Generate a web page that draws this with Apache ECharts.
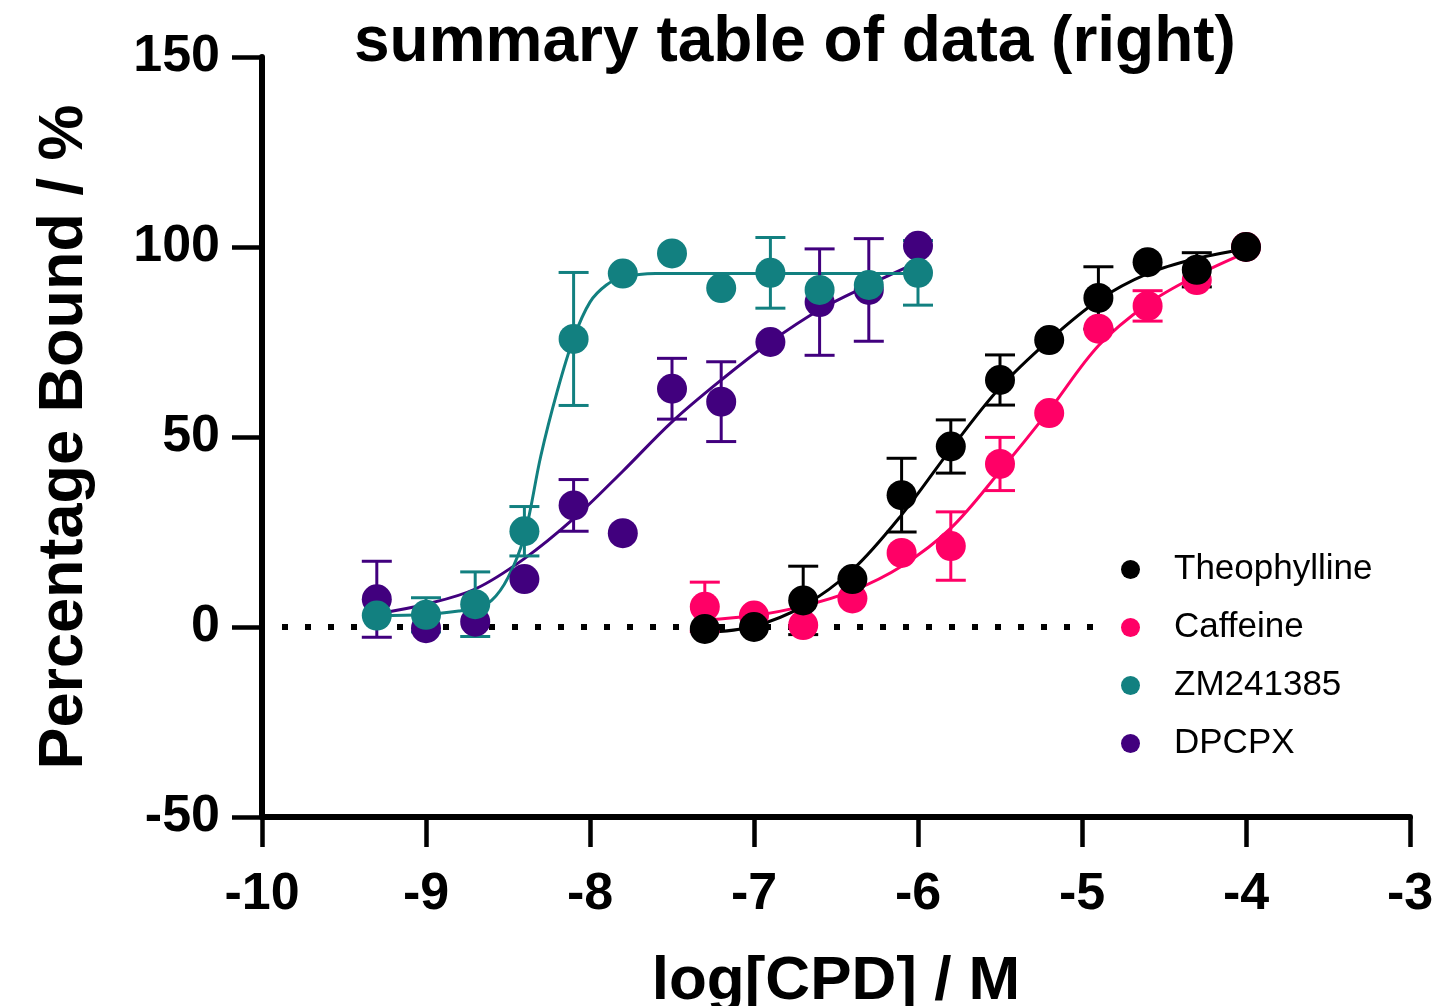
<!DOCTYPE html>
<html>
<head>
<meta charset="utf-8">
<title>summary table of data (right)</title>
<script src="https://cdn.jsdelivr.net/npm/echarts@6/dist/echarts.min.js"></script>
<style>
    html, body { margin: 0; padding: 0; background: #ffffff; }
    #chart { width: 1433px; height: 1006px; }
</style>
</head>
<body>
<div id="chart"></div>
<script>
    // measured points (log concentration / % bound / error)
    const theoX = [-7.3, -7.0, -6.7, -6.4, -6.1, -5.8, -5.5, -5.2, -4.9, -4.6, -4.3, -4.0]
    const theoY = [-0.5, 0, 7, 12.6, 34.7, 47.5, 65, 75.5, 86.6, 96, 94, 100]
    const theoErr = [0, 0, 9, 0, 9.7, 7, 6.6, 0, 8.2, 0, 4.5, 0]

    const caffX = [-7.3, -7.0, -6.7, -6.4, -6.1, -5.8, -5.5, -5.2, -4.9, -4.6, -4.3, -4.0]
    const caffY = [5.3, 3, 0.5, 7.5, 19.5, 21.3, 42.9, 56.3, 78.5, 84.5, 91.3, 100]
    const caffErr = [6.5, 0, 0, 0, 0, 9, 7, 0, 0, 4, 0, 0]

    const zmX = [-9.3, -9.0, -8.7, -8.4, -8.1, -7.8, -7.5, -7.2, -6.9, -6.6, -6.3, -6.0]
    const zmY = [3, 3.2, 6, 25.2, 75.8, 93, 98.3, 89.2, 93.2, 88.7, 90, 93.2]
    const zmErr = [0, 4.5, 8.5, 6.5, 17.5, 0, 0, 0, 9.3, 0, 0, 8.5]

    const dpcpxX = [-9.3, -9.0, -8.7, -8.4, -8.1, -7.8, -7.5, -7.2, -6.9, -6.6, -6.3, -6.0]
    const dpcpxY = [7.3, -0.3, 1.4, 12.6, 32, 24.7, 62.7, 59.3, 75, 85.5, 88.7, 100.3]
    const dpcpxErr = [10, 0, 0, 0, 6.8, 0, 8, 10.5, 0, 14, 13.5, 0]

    // fitted curves
    const theoFitX = [-7.3, -7.0, -6.7, -6.4, -6.1, -5.8, -5.5, -5.2, -4.9, -4.6, -4.3, -4.0]
    const theoFitY = [-1.5, 0.2, 5.5, 15, 29.5, 46.8, 63, 75.5, 86, 93, 97, 99.5]

    const caffFitX = [-7.3, -7.0, -6.7, -6.4, -6.1, -5.8, -5.5, -5.2, -4.9, -4.6, -4.3, -4.0]
    const caffFitY = [1.8, 3, 5.5, 9.5, 16, 26, 41, 57, 74, 85, 92.5, 98.5]

    const zmFitX = [-9.3, -9.0, -8.8, -8.7, -8.6, -8.5, -8.4, -8.3, -8.2, -8.1, -8.0, -7.9, -7.8, -7.6, -7.2, -6.6, -6.0]
    const zmFitY = [3, 3.3, 4.2, 5, 7, 13, 24, 45, 62, 76, 85.5, 90, 92, 93, 93, 93, 93]

    const dpcpxFitX = [-9.3, -9.0, -8.7, -8.4, -8.1, -7.8, -7.5, -7.2, -6.9, -6.6, -6.3, -6.0]
    const dpcpxFitY = [3.5, 6, 10, 18, 28.5, 41, 54, 65, 75, 83.5, 90, 96]

    const baselineX = [-10, -4.93]
    const baselineY = [0, 0]

    const xTicks = [-10, -9, -8, -7, -6, -5, -4, -3]
    const yTicks = [-50, 0, 50, 100, 150]

    const legendNames = ['Theophylline', 'Caffeine', 'ZM241385', 'DPCPX']
    const colors = {
        Theophylline: '#000000',
        Caffeine: '#ff0066',
        ZM241385: '#128080',
        DPCPX: '#41007e'
    }

    const fontFamily = '"Liberation Sans", Arial, sans-serif'

    function zip(xs, ys) {
        return xs.map((x, i) => [x, ys[i]])
    }

    function curveSeries(name, xs, ys) {
        return {
            name: name,
            type: 'line',
            data: zip(xs, ys),
            smooth: 0.35,
            symbol: 'none',
            silent: true,
            itemStyle: { color: colors[name] },
            lineStyle: { color: colors[name], width: 3 },
            z: 2
        }
    }

    function errorSeries(name, xs, ys, errs) {
        const data = xs.map((x, i) => [x, ys[i], errs[i]]).filter(d => d[2] > 0)
        return {
            name: name,
            type: 'custom',
            silent: true,
            encode: { x: 0, y: 1 },
            data: data,
            itemStyle: { color: colors[name] },
            z: 3,
            renderItem: function (params, api) {
                const x = api.value(0)
                const y = api.value(1)
                const e = api.value(2)
                const top = api.coord([x, y + e])
                const bot = api.coord([x, y - e])
                const hw = 15
                const style = { stroke: colors[name], lineWidth: 3 }
                return {
                    type: 'group',
                    children: [
                        { type: 'line', shape: { x1: top[0], y1: top[1], x2: bot[0], y2: bot[1] }, style: style },
                        { type: 'line', shape: { x1: top[0] - hw, y1: top[1], x2: top[0] + hw, y2: top[1] }, style: style },
                        { type: 'line', shape: { x1: bot[0] - hw, y1: bot[1], x2: bot[0] + hw, y2: bot[1] }, style: style }
                    ]
                }
            }
        }
    }

    function pointSeries(name, xs, ys) {
        return {
            name: name,
            type: 'scatter',
            data: zip(xs, ys),
            symbol: 'circle',
            symbolSize: 30,
            itemStyle: { color: colors[name], opacity: 1 },
            z: 4
        }
    }

    const chart = echarts.init(document.getElementById('chart'))

    chart.setOption({
        animation: false,
        backgroundColor: '#ffffff',
        title: {
            text: 'summary table of data (right)',
            left: 349,
            top: 6,
            textStyle: { fontFamily: fontFamily, fontSize: 64, fontWeight: 'bold', color: '#000' }
        },
        legend: {
            data: legendNames,
            orient: 'vertical',
            left: 1116,
            top: 547,
            icon: 'circle',
            itemWidth: 19,
            itemHeight: 19,
            itemGap: 23,
            selectedMode: false,
            textStyle: {
                fontFamily: fontFamily,
                fontSize: 35,
                lineHeight: 34,
                color: '#000',
                padding: [0, 0, 0, 29]
            }
        },
        grid: {
            left: 262,
            right: 23,
            top: 57,
            bottom: 189,
            outerBoundsMode: 'none'
        },
        xAxis: {
            type: 'value',
            min: xTicks[0],
            max: xTicks[xTicks.length - 1],
            interval: 1,
            name: 'log[CPD] / M',
            nameLocation: 'middle',
            nameGap: 134,
            nameTextStyle: { fontFamily: fontFamily, fontSize: 62, fontWeight: 'bold', color: '#000' },
            axisLine: { onZero: false, lineStyle: { color: '#000', width: 6 } },
            axisTick: { length: 30, lineStyle: { color: '#000', width: 4.5 } },
            axisLabel: { margin: 52, fontFamily: fontFamily, fontSize: 52, fontWeight: 'bold', color: '#000' },
            splitLine: { show: false }
        },
        yAxis: {
            type: 'value',
            min: yTicks[0],
            max: yTicks[yTicks.length - 1],
            interval: 50,
            name: 'Percentage Bound / %',
            nameLocation: 'middle',
            nameGap: 166,
            nameTextStyle: { fontFamily: fontFamily, fontSize: 63, fontWeight: 'bold', color: '#000' },
            axisLine: { show: true, onZero: false, lineStyle: { color: '#000', width: 6 } },
            axisTick: { show: true, length: 30, lineStyle: { color: '#000', width: 4.5 } },
            axisLabel: { margin: 42, fontFamily: fontFamily, fontSize: 52, fontWeight: 'bold', color: '#000' },
            splitLine: { show: false }
        },
        series: [
            {
                name: 'baseline',
                type: 'line',
                data: zip(baselineX, baselineY),
                symbol: 'none',
                silent: true,
                lineStyle: { color: '#000', width: 6, type: [6, 17], dashOffset: 3 },
                z: 1
            },
            curveSeries('DPCPX', dpcpxFitX, dpcpxFitY),
            errorSeries('DPCPX', dpcpxX, dpcpxY, dpcpxErr),
            pointSeries('DPCPX', dpcpxX, dpcpxY),
            curveSeries('ZM241385', zmFitX, zmFitY),
            errorSeries('ZM241385', zmX, zmY, zmErr),
            pointSeries('ZM241385', zmX, zmY),
            curveSeries('Caffeine', caffFitX, caffFitY),
            errorSeries('Caffeine', caffX, caffY, caffErr),
            pointSeries('Caffeine', caffX, caffY),
            curveSeries('Theophylline', theoFitX, theoFitY),
            errorSeries('Theophylline', theoX, theoY, theoErr),
            pointSeries('Theophylline', theoX, theoY)
        ]
    })
</script>
</body>
</html>
